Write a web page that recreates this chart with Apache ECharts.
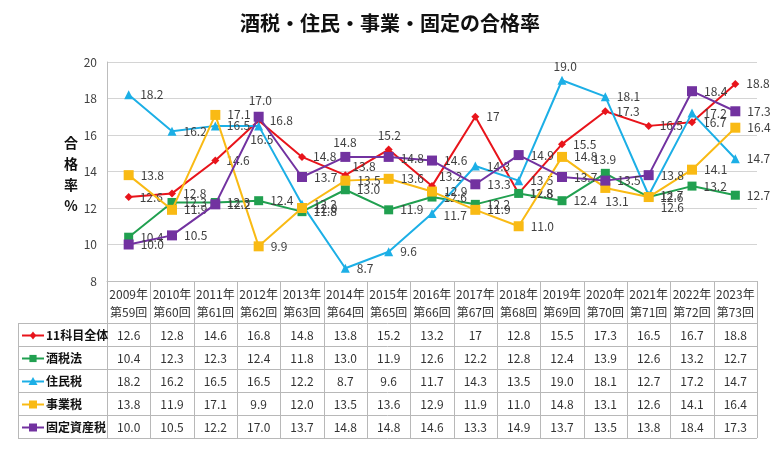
<!DOCTYPE html>
<html><head><meta charset="utf-8">
<script src="https://cdn.jsdelivr.net/npm/echarts@6/dist/echarts.min.js"></script>
<style>html,body{margin:0;padding:0;background:#fff}#c{width:780px;height:449px}</style>
</head><body><div id="c"></div>
<script>
const years = ['2009年','2010年','2011年','2012年','2013年','2014年','2015年','2016年','2017年','2018年','2019年','2020年','2021年','2022年','2023年'];
const rounds = ['第59回','第60回','第61回','第62回','第63回','第64回','第65回','第66回','第67回','第68回','第69回','第70回','第71回','第72回','第73回'];
const seriesNames = ['11科目全体','酒税法','住民税','事業税','固定資産税'];
const total    = [12.6,12.8,14.6,16.8,14.8,13.8,15.2,13.2,17,12.8,15.5,17.3,16.5,16.7,18.8];
const liquor   = [10.4,12.3,12.3,12.4,11.8,13.0,11.9,12.6,12.2,12.8,12.4,13.9,12.6,13.2,12.7];
const resident = [18.2,16.2,16.5,16.5,12.2,8.7,9.6,11.7,14.3,13.5,19.0,18.1,12.7,17.2,14.7];
const business = [13.8,11.9,17.1,9.9,12.0,13.5,13.6,12.9,11.9,11.0,14.8,13.1,12.6,14.1,16.4];
const fixedAsset = [10.0,10.5,12.2,17.0,13.7,14.8,14.8,14.6,13.3,14.9,13.7,13.5,13.8,18.4,17.3];
const tableText = [
  ['12.6','12.8','14.6','16.8','14.8','13.8','15.2','13.2','17','12.8','15.5','17.3','16.5','16.7','18.8'],
  ['10.4','12.3','12.3','12.4','11.8','13.0','11.9','12.6','12.2','12.8','12.4','13.9','12.6','13.2','12.7'],
  ['18.2','16.2','16.5','16.5','12.2','8.7','9.6','11.7','14.3','13.5','19.0','18.1','12.7','17.2','14.7'],
  ['13.8','11.9','17.1','9.9','12.0','13.5','13.6','12.9','11.9','11.0','14.8','13.1','12.6','14.1','16.4'],
  ['10.0','10.5','12.2','17.0','13.7','14.8','14.8','14.6','13.3','14.9','13.7','13.5','13.8','18.4','17.3']
];
const allData = [total, liquor, resident, business, fixedAsset];

const colors = ['#E8141B','#21A050','#1CAFE6','#F9BA14','#7232A0'];
const symbols = ['diamond','rect','triangle','rect','rect'];
const symSizes = [8,9,9,10,10];
// label offsets [dx,dy] per series per point (styling only)
const labelOffsets = {
  0: {5:[-4,-9],6:[-22,-14],7:[-4,-10]},
  1: {11:[-24,-14]},
  2: {3:[-20,14],10:[-20,-14],7:[0,2]},
  3: {11:[-12,14],12:[0,10]},
  4: {3:[-22,-16],5:[-24,-14],6:[0,2]}
};

const FONT = '"Noto Sans CJK JP","Noto Sans",sans-serif';
const chart = echarts.init(document.getElementById('c'), null, {renderer:'canvas'});

const GL = 107, GR = 757, GT = 62, GB = 281;
const series = allData.map((d, si) => ({
  name: seriesNames[si],
  type: 'line',
  data: d.map((v, i) => {
    const off = (labelOffsets[si] || {})[i];
    const item = {value: v};
    if (off) item.label = {offset: off};
    return item;
  }),
  symbol: symbols[si],
  symbolSize: symSizes[si],
  lineStyle: {color: colors[si], width: 2},
  itemStyle: {color: colors[si]},
  label: {show: true, position: 'right', distance: 7, color: '#404040', fontSize: 12, fontFamily: FONT,
    formatter: p => tableText[si][p.dataIndex]},
  z: 2 + si
}));

chart.setOption({
  animation: false,
  textStyle: {fontFamily: FONT},
  title: {text: '酒税・住民・事業・固定の合格率', left: 'center', top: 8,
    textStyle: {fontSize: 20, fontWeight: 'bold', color: '#111', fontFamily: FONT}},
  grid: {left: GL, top: GT, width: GR - GL, height: GB - GT},
  xAxis: {type: 'category', data: years, boundaryGap: true,
    axisLine: {show: true, lineStyle: {color: '#bdbdbd'}}, axisTick: {show: false}, axisLabel: {show: false}},
  yAxis: {type: 'value', min: 8, max: 20, interval: 2,
    axisLine: {show: true, lineStyle: {color: '#bdbdbd'}},
    axisLabel: {color: '#404040', fontSize: 12, margin: 10},
    splitLine: {lineStyle: {color: '#d4d4d4'}}},
  series: series
});

// build table graphic
const colW = (GR - GL) / years.length;
const headerTop = GB, headerBottom = 323, rowH = 23, leftX = 18;
const tableBottom = headerBottom + rowH * seriesNames.length;
const g = [];
const lineStyle = {stroke: '#b8b8b8', lineWidth: 1};
g.push({type:'line', shape:{x1:GL, y1:headerTop+0.5, x2:GR, y2:headerTop+0.5}, style:lineStyle});
for (let r = 0; r <= seriesNames.length; r++) {
  const y = Math.round(headerBottom + r*rowH) + 0.5;
  g.push({type:'line', shape:{x1:leftX, y1:y, x2:GR, y2:y}, style:lineStyle});
}
g.push({type:'line', shape:{x1:leftX+0.5, y1:headerBottom, x2:leftX+0.5, y2:tableBottom}, style:lineStyle});
for (let c = 0; c <= years.length; c++) {
  const x = Math.round(GL + c*colW) + 0.5;
  g.push({type:'line', shape:{x1:x, y1:headerTop, x2:x, y2:tableBottom}, style:lineStyle});
}
years.forEach((y, i) => {
  const cx = GL + (i+0.5)*colW;
  g.push({type:'text', x: cx, y: 294, style:{text: y, fill:'#333', font:'12px '+FONT, textAlign:'center', textVerticalAlign:'middle'}});
  g.push({type:'text', x: cx, y: 312, style:{text: rounds[i], fill:'#333', font:'12px '+FONT, textAlign:'center', textVerticalAlign:'middle'}});
});
seriesNames.forEach((name, si) => {
  const cy = headerBottom + (si+0.5)*rowH + 1;
  g.push({type:'line', shape:{x1:22, y1:cy, x2:44, y2:cy}, style:{stroke:colors[si], lineWidth:2}});
  const mx = 33, s = symSizes[si]/2;
  if (symbols[si] === 'diamond') {
    g.push({type:'polygon', shape:{points:[[mx,cy-s],[mx+s*0.8,cy],[mx,cy+s],[mx-s*0.8,cy]]}, style:{fill:colors[si]}});
  } else if (symbols[si] === 'triangle') {
    g.push({type:'polygon', shape:{points:[[mx,cy-s],[mx+s,cy+s*0.8],[mx-s,cy+s*0.8]]}, style:{fill:colors[si]}});
  } else {
    g.push({type:'rect', shape:{x:mx-s*0.8, y:cy-s*0.8, width:s*1.6, height:s*1.6}, style:{fill:colors[si]}});
  }
  g.push({type:'text', x: 46, y: cy, style:{text: name, fill:'#111', font:'bold 12px '+FONT, textAlign:'left', textVerticalAlign:'middle'}});
  tableText[si].forEach((t, i) => {
    g.push({type:'text', x: GL + (i+0.5)*colW, y: cy, style:{text: t, fill:'#333', font:'12px '+FONT, textAlign:'center', textVerticalAlign:'middle'}});
  });
});
g.push({type:'text', x: 71, y: 174, style:{text:'合\n格\n率\n%', fill:'#111', font:'bold 14px '+FONT, textAlign:'center', textVerticalAlign:'middle', lineHeight: 21}});
chart.setOption({graphic: {elements: g}});
</script>
</body></html>
